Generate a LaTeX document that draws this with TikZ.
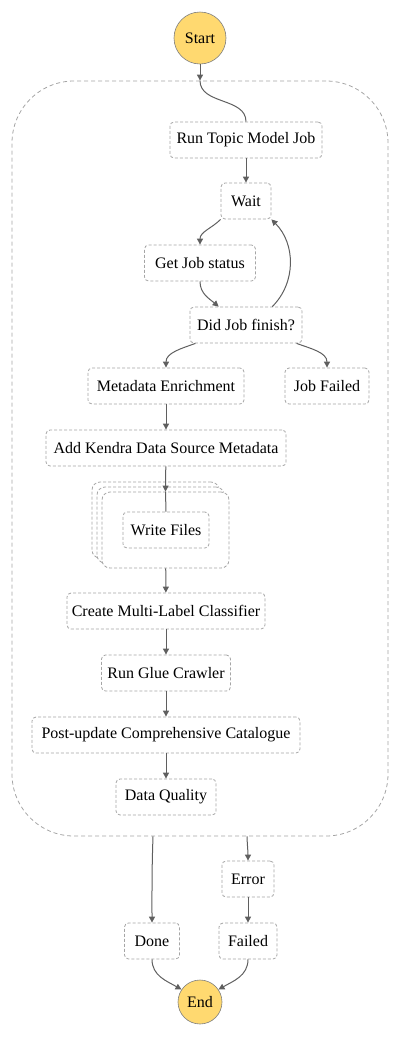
\documentclass[tikz,border=0pt]{standalone}
\usepackage{fontspec}
\setmainfont{Liberation Serif}
\usetikzlibrary{positioning, calc, arrows.meta}

\definecolor{stateyellow}{RGB}{255,217,112}
\definecolor{boxgray}{RGB}{165,165,165}
\definecolor{linkgray}{RGB}{95,95,95}

\begin{document}
\begin{tikzpicture}[x=1pt, y=-1pt,
        state/.style={draw=boxgray, line width=0.8pt, dash pattern=on 3pt off 2pt, rounded corners=4pt,
            fill=white, minimum height=36pt, inner sep=0pt, font=\fontsize{16}{19}\selectfont},
        terminal/.style={circle, draw=linkgray!80, line width=0.6pt, fill=stateyellow, inner sep=0pt,
            font=\fontsize{16}{19}\selectfont},
        flow/.style={draw=linkgray, line width=1pt, -{Triangle[length=6pt, width=6pt]}},
        link/.style={draw=linkgray, line width=1pt}]
        \useasboundingbox (0,0) rectangle (401,1037);

        % the outer group
        \node[draw=boxgray, line width=0.8pt, dash pattern=on 4pt off 3pt, rounded corners=62pt,
            minimum width=376pt, minimum height=755pt, inner sep=0pt] (group) at (200,458.5) {};
        \coordinate (gin) at (group.north);
        \coordinate (gdone) at ($(group.south)+(-47,0)$);
        \coordinate (gerror) at ($(group.south)+(47,0)$);

        % start and end
        \node[terminal, minimum size=52pt] (start) at (200,38) {Start};
        \node[terminal, minimum size=44pt] (end) at (200,1002) {End};

        % the states
        \node[state, minimum width=152pt] (run) at (246,140) {Run Topic Model Job};
        \node[state, minimum width=50pt] (wait) at (246,201) {Wait};
        \node[state, minimum width=111pt] (status) at (200,263) {Get Job status};
        \node[state, minimum width=112pt] (finish) at (246,325) {Did Job finish?};
        \node[state, minimum width=156pt] (enrich) at (166,386) {Metadata Enrichment};
        \node[state, minimum width=84pt] (jobfailed) at (327,386) {Job Failed};
        \node[state, minimum width=240pt] (kendra) at (166,448) {Add Kendra Data Source Metadata};

        % map stack
        \node[state, minimum width=127pt, minimum height=76pt, rounded corners=8pt] (mapb) at (155.5,520) {};
        \node[state, minimum width=127pt, minimum height=76pt, rounded corners=8pt] (mapm) at (160.5,525) {};
        \node[state, minimum width=127pt, minimum height=76pt, rounded corners=8pt] (map) at (165.5,530) {};
        \node[state, minimum width=86pt] (write) at (166,530) {Write Files};

        \node[state, minimum width=198pt] (classifier) at (166,611) {Create Multi-Label Classifier};
        \node[state, minimum width=129pt] (crawler) at (166,673) {Run Glue Crawler};
        \node[state, minimum width=268pt] (catalogue) at (166,735) {Post-update Comprehensive Catalogue};
        \node[state, minimum width=100pt] (quality) at (166,797) {Data Quality};

        \node[state, minimum width=52pt] (error) at (248,879) {Error};
        \node[state, minimum width=55pt] (done) at (152,941) {Done};
        \node[state, minimum width=58pt] (failed) at (248,941) {Failed};

        % connectors
        \draw[flow] (start) -- (gin);
        \draw[link] (gin) to[out=-90, in=90] (run.north);
        \draw[flow] (run) -- (wait);
        \draw[flow] (wait.south west) to[out=-135, in=90] (status.north);
        \draw[flow] (status.south) to[out=-90, in=140] (finish.146);
        \draw[flow] (finish.35) to[out=45, in=-45] (wait.south east);
        \draw[flow] (finish.200) to[out=-160, in=90] (enrich.north);
        \draw[flow] (finish.-20) to[out=-20, in=90] (jobfailed.north);
        \draw[flow] (enrich) -- (kendra);
        \draw[flow] (kendra) -- (map.north);
        \draw[link] (map.north) -- (write.north);
        \draw[flow] (map) -- (classifier);
        \draw[flow] (classifier) -- (crawler);
        \draw[flow] (crawler) -- (catalogue);
        \draw[flow] (catalogue) -- (quality);
        \draw[flow] (gdone) to[out=-92, in=90] (done.north);
        \draw[flow] (gerror) to[out=-88, in=90] (error.north);
        \draw[flow] (error) -- (failed);
        \draw[flow] (done.south) to[out=-90, in=150] (end.146);
        \draw[flow] (failed.south) to[out=-90, in=30] (end.34);
    \end{tikzpicture}
\end{document}
